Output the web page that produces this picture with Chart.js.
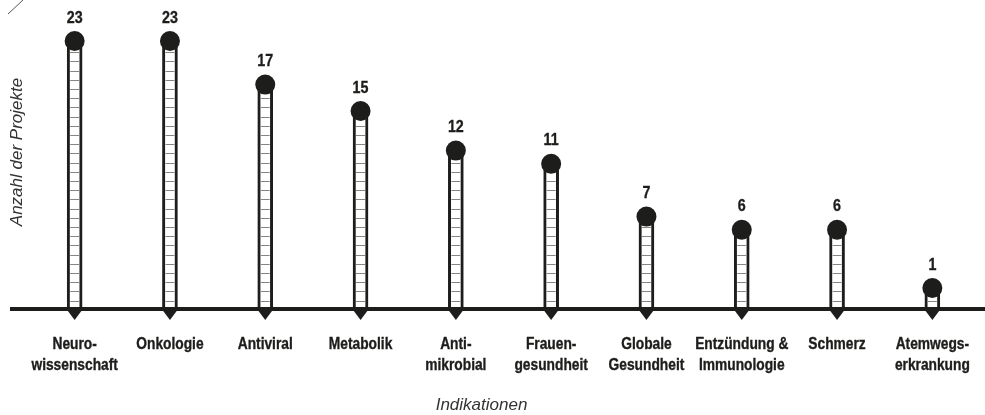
<!DOCTYPE html>
<html>
<head>
<meta charset="utf-8">
<script src="https://cdn.jsdelivr.net/npm/chart.js@4.4.0/dist/chart.umd.min.js"></script>
<style>
  html, body { margin: 0; padding: 0; background: #fff; }
  #wrap { width: 985px; height: 415px; }
</style>
</head>
<body>
<div id="wrap"><canvas id="projchart"></canvas></div>
<script>
const indikationen = [
    ["Neuro-", "wissenschaft"], "Onkologie", "Antiviral", "Metabolik",
    ["Anti-", "mikrobial"], ["Frauen-", "gesundheit"], ["Globale", "Gesundheit"],
    ["Entzündung &", "Immunologie"], "Schmerz", ["Atemwegs-", "erkrankung"]
];
const projekte = [23, 23, 17, 15, 12, 11, 7, 6, 6, 1];
const yMax = 20.3; // Skala endet hier, höhere Werte werden oben gekappt

const ink = "#1d1d1b";
const plain = "'Liberation Sans', Arial, sans-serif";

// schmale, kräftige Schrift nachbilden: Text horizontal stauchen
function narrowText(ctx, text, x, y, squeeze) {
    ctx.save();
    ctx.translate(x, y);
    ctx.scale(squeeze, 1);
    ctx.lineWidth = 0.35;
    ctx.strokeStyle = ink;
    ctx.fillText(text, 0, 0);
    ctx.strokeText(text, 0, 0);
    ctx.restore();
}

const lollipop = {
    id: "lollipop",
    afterDatasetsDraw(chart) {
        const ctx = chart.ctx;
        const area = chart.chartArea;
        const meta = chart.getDatasetMeta(0);
        ctx.save();

        // Sprossen in den Balken
        meta.data.forEach(function (bar) {
            const top = Math.max(bar.y, area.top);
            const half = bar.width / 2;
            ctx.strokeStyle = "#858585";
            ctx.lineWidth = 1;
            for (let y = bar.base - 8.5; y > top + 4; y -= 9.2) {
                ctx.beginPath();
                ctx.moveTo(bar.x - half + 3, Math.round(y) + 0.5);
                ctx.lineTo(bar.x + half - 3, Math.round(y) + 0.5);
                ctx.stroke();
            }
        });

        // Achse
        ctx.strokeStyle = ink;
        ctx.lineWidth = 4;
        ctx.beginPath();
        ctx.moveTo(10, area.bottom);
        ctx.lineTo(chart.width, area.bottom);
        ctx.stroke();

        ctx.textAlign = "center";
        ctx.textBaseline = "middle";
        meta.data.forEach(function (bar, i) {
            const top = Math.max(bar.y, area.top);
            const half = bar.width / 2;
            ctx.fillStyle = ink;
            // Dreieck unter der Achse
            ctx.beginPath();
            ctx.moveTo(bar.x - half, area.bottom + 1);
            ctx.lineTo(bar.x + half, area.bottom + 1);
            ctx.lineTo(bar.x, area.bottom + 11);
            ctx.closePath();
            ctx.fill();
            // Punkt
            ctx.beginPath();
            ctx.arc(bar.x, top, 10, 0, Math.PI * 2);
            ctx.fill();
            // Wert
            ctx.font = "bold 17px " + plain;
            narrowText(ctx, String(projekte[i]), bar.x, top - 23, 0.84);
        });

        // Kategorien
        const xs = chart.scales.x;
        ctx.font = "bold 16px " + plain;
        indikationen.forEach(function (lab, i) {
            const lines = Array.isArray(lab) ? lab : [lab];
            const x = xs.getPixelForTick(i);
            lines.forEach(function (t, j) {
                narrowText(ctx, t, x, area.bottom + 36 + j * 21, 0.86);
            });
        });
        ctx.restore();
    },
    afterDraw(chart) {
        const ctx = chart.ctx;
        ctx.save();
        ctx.fillStyle = "#333";
        ctx.font = "italic 17px " + plain;
        ctx.textAlign = "center";
        ctx.textBaseline = "middle";
        ctx.fillText("Indikationen", chart.width / 2 - 11, 405);
        ctx.translate(17, 152);
        ctx.rotate(-Math.PI / 2);
        ctx.fillText("Anzahl der Projekte", 0, 0);
        ctx.restore();
        // kleiner Strich oben links
        ctx.save();
        ctx.strokeStyle = "#555";
        ctx.lineWidth = 1;
        ctx.beginPath();
        ctx.moveTo(8, 14);
        ctx.lineTo(23, 0);
        ctx.stroke();
        ctx.restore();
    }
};

new Chart(document.getElementById("projchart"), {
    "type": "bar",
    "data": {
        "labels": indikationen,
        "datasets": [{
            "data": projekte,
            "backgroundColor": "#ffffff",
            "borderColor": ink,
            "borderWidth": 3,
            "borderSkipped": "start",
            "barThickness": 15,
            "minBarLength": 21,
            "clip": 0
        }]
    },
    "options": {
        responsive: true,
        maintainAspectRatio: false,
        animation: false,
        layout: { padding: { left: 27, right: 5, top: 41, bottom: 106 } },
        plugins: { legend: { display: false }, tooltip: { enabled: false } },
        scales: {
            x: {
                grid: { display: false, drawTicks: false },
                border: { display: false },
                ticks: { display: false }
            },
            y: { display: false, min: 0, max: yMax }
        }
    },
    plugins: [lollipop]
});
</script>
</body>
</html>
